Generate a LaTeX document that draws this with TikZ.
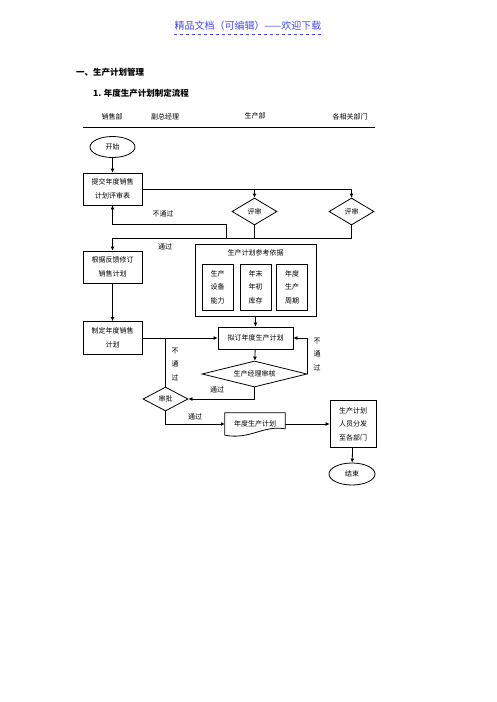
\documentclass[tikz,border=0pt]{standalone}
\usepackage{fontspec}
\setmainfont{Noto Sans CJK SC}
\usetikzlibrary{arrows.meta, shapes.geometric}

\begin{document}
\begin{tikzpicture}[
    x=1pt, y=-1pt,
    txt/.style={
        font=\fontsize{7}{13.5}\selectfont,
        align=center,
        inner sep=0pt
    },
    box/.style={
        txt,
        draw,
        line width=0.8pt
    },
    decision/.style={
        txt,
        draw,
        diamond,
        line width=0.8pt
    },
    terminal/.style={
        txt,
        draw,
        ellipse,
        line width=0.8pt,
        minimum width=45pt,
        minimum height=21pt
    },
    arrow/.style={-{Latex[length=4pt, width=4pt]}, line width=0.8pt},
    link/.style={line width=0.8pt}
]

\useasboundingbox (0,0) rectangle (496,702);

% page header
\node[font=\fontsize{10}{12}\selectfont, text={rgb,255:red,70;green,70;blue,245}, inner sep=0pt] (head) at (248,26) {精品文档（可编辑）——欢迎下载};
\draw[dashed, line width=0.6pt, color={rgb,255:red,70;green,70;blue,245}] (head.south west) ++(0,3) -- ([yshift=-3pt]head.south east);
\node[font=\fontsize{8.5}{10}\selectfont\bfseries, anchor=west, inner sep=0pt] (sec) at (76,72) {一、生产计划管理};
\node[font=\fontsize{8.5}{10}\selectfont\bfseries, anchor=west, inner sep=0pt] (sub) at (93,93) {1. 年度生产计划制定流程};

% lanes
\node[txt] (lsales) at (112,117) {销售部};
\node[txt] (lvp) at (165,117) {副总经理};
\node[txt] (lprod) at (255,116) {生产部};
\node[txt] (lother) at (350,117) {各相关部门};
\draw[line width=0.9pt] (83,127) -- (375,127);

% nodes
\node[terminal] (start) at (112.5,147) {开始};
\node[box, minimum width=59pt, minimum height=32pt] (submit) at (112.5,189) {提交年度销售\\计划评审表};
\node[decision, aspect=1.7, minimum width=45pt, minimum height=27pt] (rev1) at (254.5,211.5) {评审};
\node[decision, aspect=1.7, minimum width=45pt, minimum height=27pt] (rev2) at (351.5,211.5) {评审};
\node[box, minimum width=59pt, minimum height=32pt] (revise) at (112.5,267) {根据反馈修订\\销售计划};
\node[box, minimum width=121pt, minimum height=72pt] (basis) at (255.5,280) {};
\node[txt] (basistitle) at (255.5,253) {生产计划参考依据};
\node[box, minimum width=31pt, minimum height=46pt] (capa) at (217.5,287) {生产\\设备\\能力};
\node[box, minimum width=31pt, minimum height=46pt] (stock) at (255.5,287) {年末\\年初\\库存};
\node[box, minimum width=31pt, minimum height=46pt] (cycle) at (292,287) {年度\\生产\\周期};
\node[box, minimum width=59pt, minimum height=33pt] (salesplan) at (112.5,338) {制定年度销售\\计划};
\node[box, minimum width=75pt, minimum height=22pt] (draft) at (255.5,338) {拟订年度生产计划};
\node[decision, aspect=4, minimum width=105pt, minimum height=26pt] (mgr) at (254.5,374) {生产经理审核};
\node[decision, aspect=1.8, minimum width=45pt, minimum height=24pt] (approve) at (165.5,399) {审批};
\node[txt, minimum width=60pt, minimum height=22pt] (doc) at (255,424) {年度生产计划};
\node[box, minimum width=46pt, minimum height=47pt] (dist) at (353,424) {生产计划\\人员分发\\至各部门};
\node[terminal, minimum width=46pt, minimum height=22pt] (finish) at (352,474) {结束};

% document shape
\draw[link] (doc.south west) -- (doc.north west) -- (doc.north east) -- ++(0,16)
    .. controls (263,425) and (250,440) .. (doc.south west);

% helper points
\coordinate (passY) at (0,238);
\coordinate (fail) at (226,238);
\coordinate (failtop) at (226,224);

% connectors
\draw[arrow] (start) -- (submit);
\draw[arrow] (submit.east) -| (rev1);
\draw[arrow] (rev1.north |- submit.east) -| (rev2);
\draw[link] (rev1.south) -- (rev1.south |- passY);
\draw[arrow] (rev2.south) |- (revise.north |- passY) -- (revise.north);
\draw[arrow] (fail) -- (failtop) -| (submit.south);
\draw[arrow] (revise) -- (salesplan);
\draw[arrow] (basis) -- (draft);
\draw[arrow] (salesplan.east) -- (draft.west);
\draw[arrow] (draft) -- (mgr);
\draw[arrow] (mgr.east) |- (draft.east);
\draw[arrow] (mgr.south) |- (approve.east);
\draw[link] (approve.north) -- (approve.north |- salesplan.east);
\draw[arrow] (approve.south) |- (doc.west);
\draw[arrow] (doc.east) -- (dist.west);
\draw[arrow] (dist) -- (finish);

% labels
\node[txt] (nopass1) at (163,214) {不通过};
\node[txt] (pass1) at (165,247) {通过};
\node[txt] (nopass2) at (175,364) {不\\通\\过};
\node[txt] (nopass3) at (317,354) {不\\通\\过};
\node[txt] (pass2) at (217,390) {通过};
\node[txt] (pass3) at (195,417) {通过};

\end{tikzpicture}
\end{document}
